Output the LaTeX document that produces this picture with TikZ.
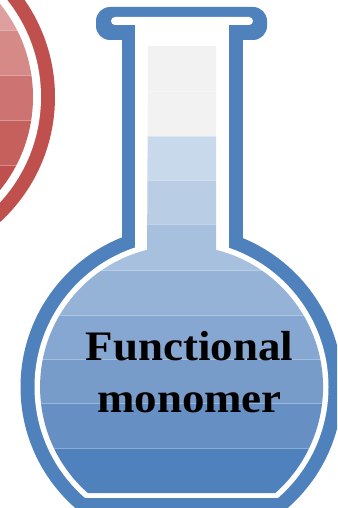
\documentclass[tikz,border=0pt]{standalone}
\usepackage{fontspec}
\newfontfamily\flasklabelfont[FakeStretch=1.07]{Liberation Serif}
\definecolor{blueline}{HTML}{4F81BD}
\definecolor{redline}{HTML}{C0504D}
\definecolor{neckgray}{HTML}{F2F2F2}
\definecolor{bA}{HTML}{C9D9EC}
\definecolor{bB}{HTML}{B9CDE5}
\definecolor{bC}{HTML}{A7C0DE}
\definecolor{bD}{HTML}{95B3D7}
\definecolor{bE}{HTML}{86A7D1}
\definecolor{bF}{HTML}{789CCA}
\definecolor{bG}{HTML}{668FC4}
\definecolor{bH}{HTML}{4F81BD}
\definecolor{rA}{HTML}{DDA09F}
\definecolor{rB}{HTML}{D58A88}
\definecolor{rC}{HTML}{CD7472}
\definecolor{rD}{HTML}{C6605D}
\definecolor{rE}{HTML}{C0504D}
\tikzset{
  bandsep/.style={draw=white, draw opacity=0.35, line width=0.8pt},
  flasklabel/.style={font=\flasklabelfont\bfseries\fontsize{42}{52}\selectfont,
    text=black, inner sep=0pt, anchor=base},
}
\begin{document}
\begin{tikzpicture}[x=1pt,y=1pt]
  % canvas: 337 x 508, coordinates are (x, -y) measured from the top left
  \useasboundingbox (0,0) rectangle (337,-508);
  \clip (0,0) rectangle (337,-508);

  % ---- red flask bulb, partly outside on the left ----
  \fill[redline] (-115,-97) circle[radius=170pt];
  \fill[white] (-115,-97) circle[radius=156pt];
  \begin{scope}
    \clip (-115,-97) circle[radius=148pt];
    \fill[rA] (-300,10) rectangle (337,-30);
    \fill[rB] (-300,-30) rectangle (337,-75);
    \fill[rC] (-300,-75) rectangle (337,-120);
    \fill[rD] (-300,-120) rectangle (337,-165);
    \fill[rE] (-300,-165) rectangle (337,-300);
    \foreach \yy in {30,75,120,165}
      \draw[bandsep] (-300,-\yy) -- (337,-\yy);
  \end{scope}

  % ---- blue flask: outline ----
  \fill[blueline, rounded corners=14pt] (96,-7) rectangle (267,-40);
  \fill[blueline] (122,-30) rectangle (243,-252);
  \fill[blueline] (181.5,-387) circle[radius=161pt];

  % ---- blue flask: white interior ----
  \fill[white, rounded corners=4pt] (111,-17) rectangle (253,-25);
  \fill[white] (135,-17) rectangle (229,-252);
  \begin{scope}
    \clip (0,0) rectangle (337,-497);
    \fill[white] (181.5,-387) circle[radius=147pt];
  \end{scope}

  % ---- blue flask: liquid in neck and bulb ----
  \begin{scope}
    \clip (148,-46) -- (216,-46) -- (216,-249.8)
      arc[start angle=75.9, end angle=-48.5, radius=141.5pt]
      -- (87.8,-493)
      arc[start angle=228.5, end angle=104.1, radius=141.5pt]
      -- cycle;
    \fill[neckgray] (0,-40) rectangle (337,-136);
    \fill[bA] (0,-136) rectangle (337,-180);
    \fill[bB] (0,-180) rectangle (337,-224);
    \fill[bC] (0,-224) rectangle (337,-270);
    \fill[bD] (0,-270) rectangle (337,-315);
    \fill[bE] (0,-315) rectangle (337,-359);
    \fill[bF] (0,-359) rectangle (337,-403);
    \fill[bG] (0,-403) rectangle (337,-448);
    \fill[bH] (0,-448) rectangle (337,-500);
    \foreach \yy in {91,136,180,224,270,315,359,403,448}
      \draw[bandsep] (0,-\yy) -- (337,-\yy);
  \end{scope}

  % ---- label ----
  \node[flasklabel] (labelA) at (189.5,-360) {Functional};
  \node[flasklabel] (labelB) at (189.5,-412) {monomer};
\end{tikzpicture}
\end{document}
